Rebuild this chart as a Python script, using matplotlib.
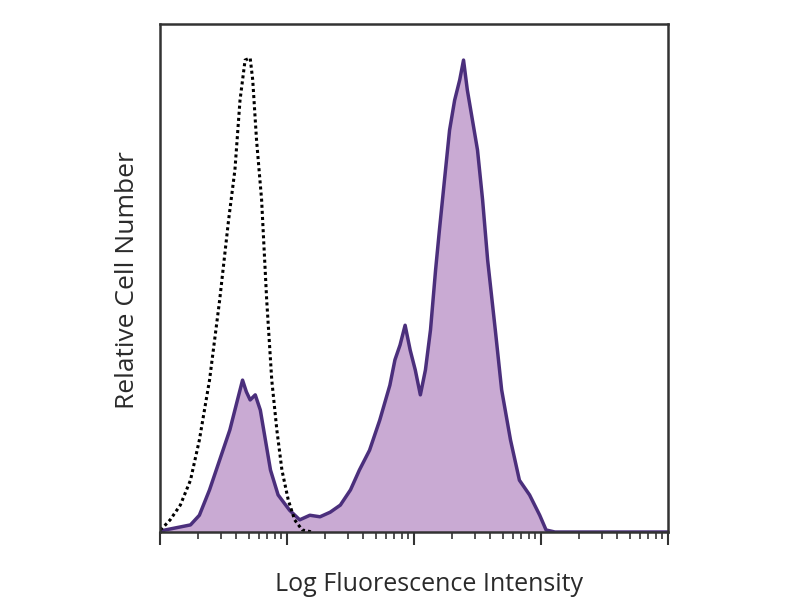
import numpy as np
import matplotlib.pyplot as plt
from matplotlib.ticker import LogLocator, NullFormatter

# === ISOTYPE CONTROL (dotted) : log10 intensity, relative count ===
iso_log = [0.00, 0.02, 0.08, 0.16, 0.24, 0.31, 0.39, 0.47, 0.54, 0.59, 0.63,
           0.67, 0.71, 0.73, 0.76, 0.80, 0.84, 0.88, 0.92, 0.96, 1.01, 1.06,
           1.12, 1.20]
iso_cnt = [0.5, 0.8, 2.4, 5.3, 10.2, 18.1, 29.9, 45.7, 61.4, 71.3, 85.0,
           92.9, 93.3, 89.0, 77.2, 65.4, 45.7, 29.9, 20.1, 12.2, 6.3, 2.4,
           0.4, 0.0]

# === STAINED SAMPLE (filled) ===
stain_log = [0.00, 0.04, 0.12, 0.24, 0.31, 0.39, 0.47, 0.55, 0.61, 0.65, 0.68,
             0.71, 0.75, 0.79, 0.83, 0.87, 0.93, 1.02, 1.10, 1.18, 1.26, 1.34,
             1.42, 1.50, 1.57, 1.65, 1.73, 1.81, 1.85, 1.89, 1.93, 1.97, 2.01,
             2.05, 2.09, 2.13, 2.17, 2.20, 2.24, 2.28, 2.32, 2.36, 2.39, 2.42,
             2.46, 2.50, 2.54, 2.58, 2.64, 2.69, 2.76, 2.83, 2.91, 2.99, 3.04,
             3.11, 4.00]
stain_cnt = [0.0, 0.4, 0.8, 1.4, 3.3, 8.3, 14.2, 20.1, 26.0, 29.9, 27.6,
             26.0, 27.0, 24.0, 18.1, 12.2, 7.3, 4.3, 2.4, 3.3, 3.0, 3.9,
             5.3, 8.3, 12.2, 16.1, 22.0, 28.9, 33.9, 36.8, 40.7, 35.8, 31.9,
             27.0, 31.9, 39.8, 51.6, 59.4, 69.3, 79.1, 85.0, 89.0, 92.9, 87.0,
             81.1, 75.2, 65.4, 53.5, 39.8, 28.0, 18.1, 10.2, 7.3, 3.3, 0.4,
             0.0, 0.0]

iso_x = 10 ** np.array(iso_log)
stain_x = 10 ** np.array(stain_log)

fig = plt.figure(figsize=(8, 6), dpi=100)
ax = fig.add_axes([0.2, 0.1133, 0.635, 0.8467])

ax.fill_between(stain_x, stain_cnt, color='#c9aad3', linewidth=0)
ax.plot(stain_x, stain_cnt, color='#4b2f7c', linewidth=2.5)
ax.plot(iso_x, iso_cnt, color='black', linewidth=2.2, linestyle=(0, (1, 1)))

ax.set_xscale('log')
ax.set_xlim(1, 1e4)
ax.set_ylim(0, 100)

ax.xaxis.set_major_locator(LogLocator(base=10, numticks=10))
ax.xaxis.set_minor_locator(LogLocator(base=10, subs=np.arange(2, 10), numticks=10))
ax.xaxis.set_major_formatter(NullFormatter())
ax.xaxis.set_minor_formatter(NullFormatter())
ax.tick_params(axis='x', which='major', direction='out', length=9, width=1.5, color='#333333')
ax.tick_params(axis='x', which='minor', direction='out', length=5, width=1.2, color='#333333')
ax.set_yticks([])

for s in ax.spines.values():
    s.set_color('#333333')
    s.set_linewidth(1.8)

fig.text(0.536, 0.026, "Log Fluorescence Intensity", ha='center', va='center',
         fontsize=18, family='Open Sans', color='#2a2a2a')
fig.text(0.16, 0.533, "Relative Cell Number", ha='center', va='center',
         rotation=90, fontsize=19, family='Open Sans', color='#2a2a2a')

fig.savefig('out.png', dpi=100)
